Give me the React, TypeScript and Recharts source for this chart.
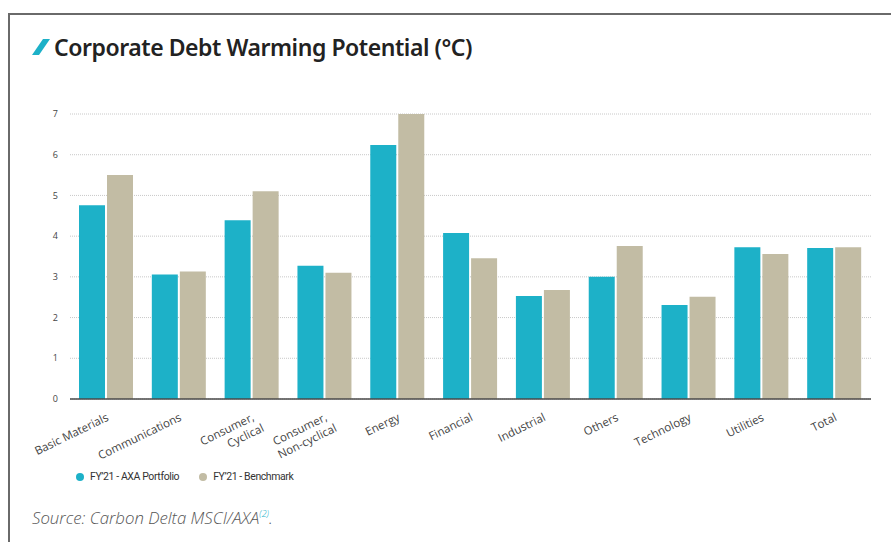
import React from "react";
import { Bar, BarChart, CartesianGrid, XAxis, YAxis } from "recharts";

const categories = [
  "Basic Materials",
  "Communications",
  "Consumer,\nCyclical",
  "Consumer,\nNon-cyclical",
  "Energy",
  "Financial",
  "Industrial",
  "Others",
  "Technology",
  "Utilities",
  "Total",
];
const axaPortfolio = [4.76, 3.06, 4.39, 3.27, 6.24, 4.08, 2.53, 3.0, 2.31, 3.73, 3.71];
const benchmark = [5.5, 3.13, 5.1, 3.1, 7.0, 3.46, 2.68, 3.76, 2.51, 3.56, 3.73];
const yTicks = [0, 1, 2, 3, 4, 5, 6, 7];
const seriesNames = ["FY’21 - AXA Portfolio", "FY’21 - Benchmark"];

const BLUE = "#1db1c8";
const BEIGE = "#c2bca4";

const data = categories.map((name, i) => ({
  name,
  axa: axaPortfolio[i],
  bench: benchmark[i],
}));

function CategoryTick(props: any) {
  const { x, y, payload } = props;
  const lines = String(payload.value).split("\n");
  return (
    <g transform={`translate(${x + 3},${y + 13})`}>
      <text
        transform="rotate(-26)"
        textAnchor="end"
        fill="#444"
        fontSize={11.5}
        fontFamily="'Open Sans', sans-serif"
      >
        {lines.map((line, i) => (
          <tspan key={i} x={i === 0 ? 0 : 4} dy={i === 0 ? 0 : 14}>
            {line}
          </tspan>
        ))}
      </text>
    </g>
  );
}

export default function App() {
  return (
    <div
      style={{
        position: "fixed",
        left: 0,
        top: 0,
        width: 891,
        height: 542,
        background: "#fff",
        overflow: "hidden",
        fontFamily: "'Open Sans', sans-serif",
      }}
    >
      {/* page frame */}
      <div
        style={{
          position: "absolute",
          left: 8,
          top: 13,
          width: 900,
          height: 600,
          borderLeft: "2px solid #6a6a6a",
          borderTop: "2px solid #6a6a6a",
        }}
      />
      <div style={{ position: "absolute", left: 31, top: 31, display: "flex", alignItems: "center" }}>
        <svg width={20} height={18} style={{ marginRight: 3 }}>
          <polygon points="12,1 19,1 8,17 1,17" fill={BLUE} />
        </svg>
        <span
          style={{
            fontFamily: "'Noto Sans', sans-serif",
            fontWeight: 600,
            fontSize: 23,
            letterSpacing: -0.45,
            color: "#222",
          }}
        >
          Corporate Debt Warming Potential (°C)
        </span>
      </div>

      <div style={{ position: "absolute", left: 0, top: 0 }}>
        <BarChart
          width={891}
          height={542}
          data={data}
          margin={{ top: 114, right: 20, left: 40, bottom: 83 }}
          barGap={2}
          barCategoryGap="13%"
        >
          <CartesianGrid vertical={false} stroke="#c8c8c8" strokeDasharray="1 1" />
          <XAxis
            dataKey="name"
            interval={0}
            tickLine={false}
            axisLine={{ stroke: "#4a4a4a", strokeWidth: 1.5 }}
            height={60}
            tick={CategoryTick}
          />
          <YAxis
            type="number"
            domain={[0, 7]}
            ticks={yTicks}
            width={30}
            axisLine={false}
            tickLine={false}
            tickMargin={6}
            tick={{ fontSize: 9, fill: "#444", fontFamily: "'Open Sans', sans-serif" }}
          />
          <Bar dataKey="axa" name={seriesNames[0]} fill={BLUE} barSize={26} isAnimationActive={false} />
          <Bar dataKey="bench" name={seriesNames[1]} fill={BEIGE} barSize={26} isAnimationActive={false} />
        </BarChart>
      </div>

      <div
        style={{
          position: "absolute",
          left: 76,
          top: 470,
          display: "flex",
          alignItems: "center",
          fontFamily: "Roboto, sans-serif",
          fontSize: 10.5,
          letterSpacing: -0.4,
          color: "#333",
        }}
      >
        {seriesNames.map((s, i) => (
          <div key={s} style={{ display: "flex", alignItems: "center", marginRight: 20 }}>
            <span
              style={{
                width: 8,
                height: 8,
                borderRadius: 4,
                background: i === 0 ? BLUE : BEIGE,
                marginRight: 6,
              }}
            />
            {s}
          </div>
        ))}
      </div>

      <div
        style={{
          position: "absolute",
          left: 32,
          top: 506,
          fontFamily: "'Open Sans', sans-serif",
          fontStyle: "italic",
          fontWeight: 300,
          fontSize: 16.8,
          color: "#555",
        }}
      >
        Source: Carbon Delta MSCI/AXA
        <sup style={{ color: BLUE, fontSize: 9 }}>(2)</sup>.
      </div>
    </div>
  );
}
